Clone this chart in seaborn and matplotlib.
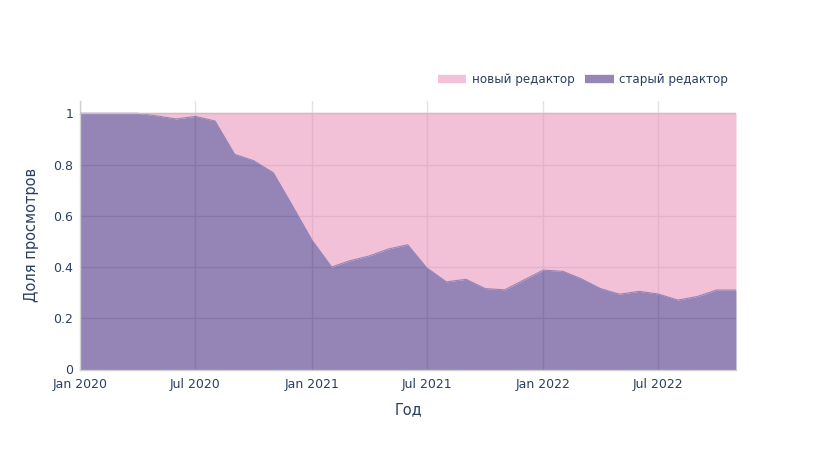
import matplotlib
matplotlib.use("Agg")
import matplotlib.pyplot as plt
from matplotlib.lines import Line2D
from matplotlib.ticker import FuncFormatter
import numpy as np
import pandas as pd
import seaborn as sns

# ---- data ----
start_month = "2020-01-01"
n_months = 35
old_share = [1.0, 1.0, 1.0, 1.0, 0.99, 0.978, 0.988, 0.97, 0.84, 0.815, 0.768, 0.64,
             0.505, 0.40, 0.424, 0.443, 0.47, 0.487, 0.397, 0.342, 0.352, 0.316, 0.311, 0.349,
             0.388, 0.383, 0.355, 0.316, 0.294, 0.305, 0.295, 0.271, 0.285, 0.31, 0.31]
series_names = ["новый редактор", "старый редактор"]
x_tick_labels = ["Jan 2020", "Jul 2020", "Jan 2021", "Jul 2021", "Jan 2022", "Jul 2022"]
y_ticks = [0, 0.2, 0.4, 0.6, 0.8, 1.0]

dates = pd.date_range(start_month, periods=n_months, freq="MS")
df = pd.DataFrame({"date": dates, "old": old_share})
df["total"] = 1.0

# ---- style ----
sns.set_theme(style="white")
plt.rcParams["font.family"] = ["DejaVu Sans"]
text_color = "#2a3f5f"
pink_base = "#E785B1"
purple_base = "#2D0B6F"
pink_vis = "#F3C2D8"
purple_vis = "#9685B7"

fig = plt.figure(figsize=(8.16, 4.5), dpi=100)
ax = fig.add_axes([80 / 816, 1 - 369.5 / 450, 656 / 816, 269 / 450])
ax.set_axisbelow(True)

# stacked area (fills drawn translucent over gridlines)
ax.fill_between(df["date"], 0, df["old"], color=purple_base, alpha=0.5, linewidth=0, zorder=2)
ax.fill_between(df["date"], df["old"], df["total"], color=pink_base, alpha=0.5, linewidth=0, zorder=2)
sns.lineplot(data=df, x="date", y="old", ax=ax, color=purple_vis, linewidth=0.8, zorder=3)
sns.lineplot(data=df, x="date", y="total", ax=ax, color="#D8B8C8", linewidth=1.0, zorder=3)

ax.set_xlim(dates[0], dates[-1])
ax.set_ylim(0, 1.05)

tick_dates = [pd.Timestamp(y, m, 1) for y in (2020, 2021, 2022) for m in (1, 7)]
ax.set_xticks(tick_dates)
ax.set_xticklabels(x_tick_labels)
ax.set_yticks(y_ticks)
ax.yaxis.set_major_formatter(FuncFormatter(lambda v, p: f"{v:g}"))

ax.grid(True, color="#E3E3E3", linewidth=1)
for s in ["top", "right"]:
    ax.spines[s].set_visible(False)
for s in ["left", "bottom"]:
    ax.spines[s].set_color("#D0D0D0")
    ax.spines[s].set_linewidth(1)

ax.tick_params(axis="x", length=0, labelsize=9, colors=text_color, pad=6)
ax.tick_params(axis="y", length=0, labelsize=9, colors=text_color, pad=5)

ax.set_xlabel("Год", fontsize=10.5, color=text_color, labelpad=8)
ax.set_ylabel("Доля просмотров", fontsize=10.5, color=text_color, labelpad=10)

handles = [Line2D([0], [0], color=pink_vis, linewidth=6, solid_capstyle="butt"),
           Line2D([0], [0], color=purple_vis, linewidth=6, solid_capstyle="butt")]
leg = fig.legend(handles, series_names, loc="center right", bbox_to_anchor=(733 / 816, 1 - 80 / 450),
                 ncol=2, frameon=False, fontsize=8.6, handlelength=2.4, handletextpad=0.45,
                 columnspacing=0.9, borderaxespad=0)
for t in leg.get_texts():
    t.set_color(text_color)

fig.savefig("out.png", dpi=100)
